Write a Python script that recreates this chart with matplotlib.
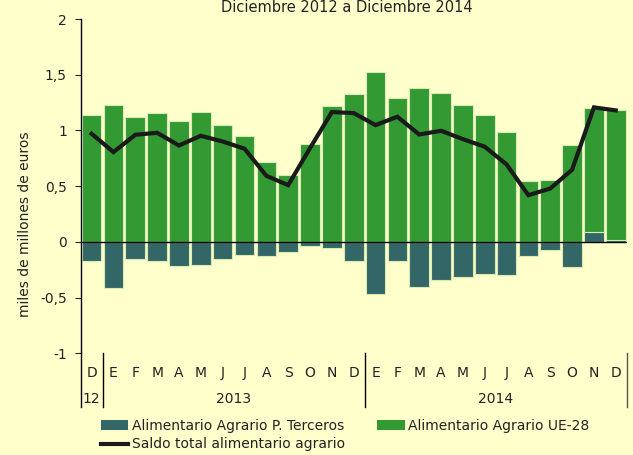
import matplotlib.pyplot as plt
import matplotlib.transforms as mtransforms
from matplotlib.patches import Patch
from matplotlib.lines import Line2D

# 25 months: Dec 2012, Jan-Dec 2013, Jan-Dec 2014
months = ["D", "E", "F", "M", "A", "M", "J", "J", "A", "S", "O", "N", "D",
          "E", "F", "M", "A", "M", "J", "J", "A", "S", "O", "N", "D"]
years = ["12", "2013", "2014"]

terceros = [-0.171, -0.416, -0.153, -0.171, -0.219, -0.210, -0.153, -0.114,
            -0.126, -0.087, -0.039, -0.051, -0.171,
            -0.470, -0.171, -0.407, -0.341, -0.314, -0.285, -0.294,
            -0.126, -0.069, -0.228, 0.093, 0.015]
ue28 = [1.135, 1.228, 1.117, 1.153, 1.087, 1.162, 1.051, 0.950,
        0.713, 0.602, 0.880, 1.222, 1.330,
        1.527, 1.294, 1.377, 1.339, 1.228, 1.135, 0.985,
        0.545, 0.554, 0.871, 1.108, 1.168]
saldo = [0.970, 0.806, 0.961, 0.979, 0.865, 0.952, 0.901, 0.836,
         0.593, 0.509, 0.841, 1.165, 1.156,
         1.048, 1.123, 0.964, 0.997, 0.922, 0.854, 0.695,
         0.419, 0.479, 0.647, 1.207, 1.180]

bg = "#FFFFCC"
c_green = "#339933"
c_teal = "#336666"
c_edge = "#D8EBB0"

fig = plt.figure(figsize=(6.33, 4.55), dpi=100, facecolor=bg)
ax = fig.add_axes([0.1275, 0.2235, 0.8625, 0.7347], facecolor=bg)

x = list(range(len(months)))
# positive third-country values sit below the EU bar
green_bottom = [t if t > 0 else 0 for t in terceros]

ax.bar(x, terceros, width=0.9, color=c_teal, edgecolor=c_edge, linewidth=0.8, zorder=2)
ax.bar(x, ue28, bottom=green_bottom, width=0.9, color=c_green, edgecolor=c_edge,
       linewidth=0.8, zorder=2)
ax.plot(x, saldo, color="#1a1a1a", linewidth=3, zorder=4, solid_joinstyle="miter")
ax.axhline(0, color="black", linewidth=1, zorder=3)

ax.set_xlim(-0.5, 24.5)
ax.set_ylim(-1, 2)
ax.set_yticks([-1, -0.5, 0, 0.5, 1, 1.5, 2])
ax.set_yticklabels(["-1", "-0,5", "0", "0,5", "1", "1,5", "2"])
ax.tick_params(axis="y", length=4, pad=6, labelsize=10, colors="#222222")
ax.set_xticks([])

for s in ["top", "right", "bottom"]:
    ax.spines[s].set_visible(False)
ax.spines["left"].set_linewidth(1)

ax.set_ylabel("miles de millones de euros", fontsize=10, color="#222222")
ax.yaxis.set_label_coords(-0.090, 0.385)

# month and year labels below the plot
trans = mtransforms.blended_transform_factory(ax.transData, ax.transAxes)
for i, m in enumerate(months):
    ax.text(i, -0.058, m, transform=trans, ha="center", va="center",
            fontsize=10, color="#222222")
ax.text(0, -0.137, years[0], transform=trans, ha="center", va="center",
        fontsize=10, color="#222222")
ax.text(6.5, -0.137, years[1], transform=trans, ha="center", va="center",
        fontsize=10, color="#222222")
ax.text(18.5, -0.137, years[2], transform=trans, ha="center", va="center",
        fontsize=10, color="#222222")
for xs, col in [(-0.5, "black"), (0.5, "black"), (12.5, "black"), (24.5, "#555555")]:
    ax.plot([xs, xs], [0, -0.1615], transform=trans, color=col, linewidth=1,
            clip_on=False)

fig.text(0.548, 0.999, "Diciembre 2012 a Diciembre 2014", ha="center", va="top",
         fontsize=10.5, color="#222222")

handles = [Patch(facecolor=c_teal, edgecolor="none"),
           Line2D([], [], color="#1a1a1a", linewidth=3),
           Patch(facecolor=c_green, edgecolor="none")]
labels = ["Alimentario Agrario P. Terceros", "Saldo total alimentario agrario",
          "Alimentario Agrario UE-28"]
fig.legend(handles, labels, loc="upper left", bbox_to_anchor=(0.159, 0.080),
           ncol=2, frameon=False, fontsize=10, handlelength=2.0, handleheight=0.7,
           handletextpad=0.25, columnspacing=2.3, labelspacing=0.35,
           borderaxespad=0, borderpad=0, labelcolor="#222222")

fig.savefig("out.png", dpi=100, facecolor=bg)
